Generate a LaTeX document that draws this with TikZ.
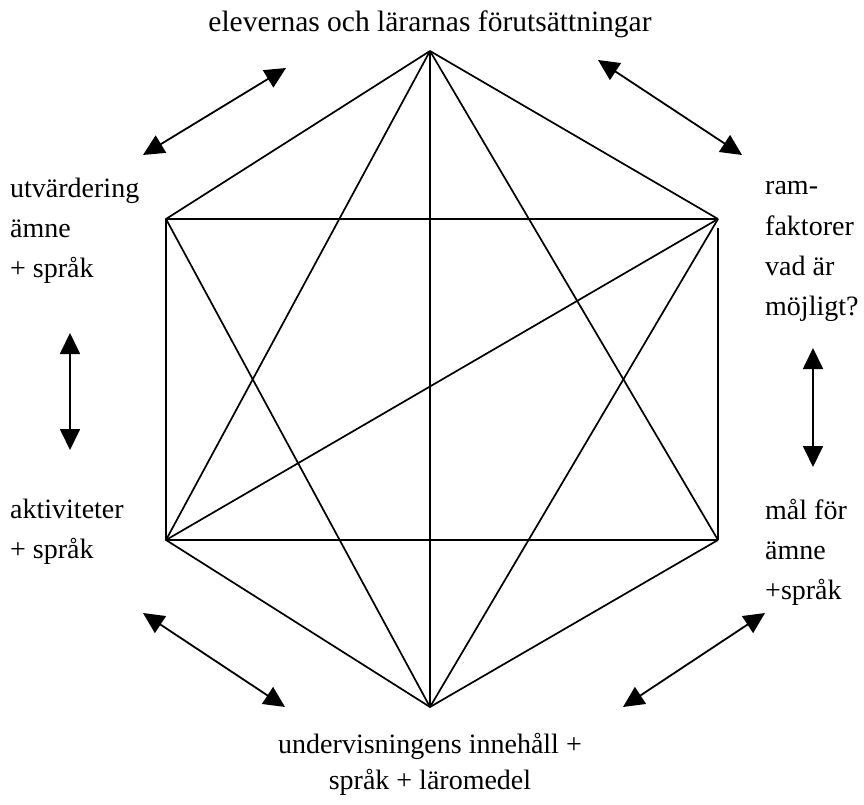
\documentclass[tikz,border=0pt]{standalone}
\usepackage{fontspec}
\setmainfont{Liberation Serif}
\usetikzlibrary{arrows.meta}
\newcommand\lblfont{\fontsize{28}{40}\selectfont}
\newcommand\topfont{\fontsize{29.5}{36}\selectfont}
\newcommand\botfont{\fontsize{28}{36}\selectfont}
\begin{document}
\begin{tikzpicture}[x=1pt,y=-1pt,
  edge/.style={line width=1.7pt, line join=miter},
  dbl/.style={line width=1.8pt, {Triangle[length=21pt,width=20pt]}-{Triangle[length=21pt,width=20pt]}},
  lbl/.style={inner sep=0pt, font=\lblfont}]
\useasboundingbox (0,0) rectangle (864,805);
% vertices
\coordinate (T) at (430,51);
\coordinate (UR) at (718,219);
\coordinate (URv) at (718,228);
\coordinate (LR) at (718,540);
\coordinate (B) at (430,707);
\coordinate (LL) at (166,540);
\coordinate (UL) at (166,219);
% hexagon
\draw[edge] (T) -- (UR);
\draw[edge] (URv) -- (LR);
\draw[edge] (LR) -- (B) -- (LL) -- (UL) -- (T);
% horizontals
\draw[edge] (UL) -- (UR);
\draw[edge] (LL) -- (LR);
% vertical
\draw[edge] (T) -- (B);
% star triangles
\draw[edge] (T) -- (LL);
\draw[edge] (T) -- (LR);
\draw[edge] (UL) -- (B);
\draw[edge] (UR) -- (B);
% diagonal
\draw[edge] (LL) -- (UR);
% arrow end points
\coordinate (a1) at (143,155); \coordinate (a2) at (286,68);
\coordinate (b1) at (598,60);  \coordinate (b2) at (742,155);
\coordinate (c1) at (70,333);  \coordinate (c2) at (70,450);
\coordinate (d1) at (813,348); \coordinate (d2) at (813,467);
\coordinate (e1) at (143,613); \coordinate (e2) at (285,707);
\coordinate (f1) at (623,707); \coordinate (f2) at (765,613);
\draw[dbl] (a1) -- (a2);
\draw[dbl] (b1) -- (b2);
\draw[dbl] (c1) -- (c2);
\draw[dbl] (d1) -- (d2);
\draw[dbl] (e1) -- (e2);
\draw[dbl] (f1) -- (f2);
% labels
\node[inner sep=0pt, font=\topfont, anchor=base] (top) at (430,32) {elevernas och lärarnas förutsättningar};
\node[lbl, anchor=base west] (utv) at (10,197)
  {\begin{tabular}[t]{@{}l@{}}utvärdering\\ ämne\\ + språk\end{tabular}};
\node[lbl, anchor=base west] (akt) at (10,518)
  {\begin{tabular}[t]{@{}l@{}}aktiviteter\\ + språk\end{tabular}};
\node[lbl, anchor=base west] (ram) at (765,195)
  {\begin{tabular}[t]{@{}l@{}}ram-\\ faktorer\\ vad är\\ möjligt?\end{tabular}};
\node[lbl, anchor=base west] (mal) at (765,519)
  {\begin{tabular}[t]{@{}l@{}}mål för\\ ämne\\ +språk\end{tabular}};
\node[inner sep=0pt, font=\botfont, anchor=base] (und) at (430,753)
  {\begin{tabular}[t]{@{}c@{}}undervisningens innehåll +\\ språk + läromedel\end{tabular}};
\end{tikzpicture}
\end{document}
